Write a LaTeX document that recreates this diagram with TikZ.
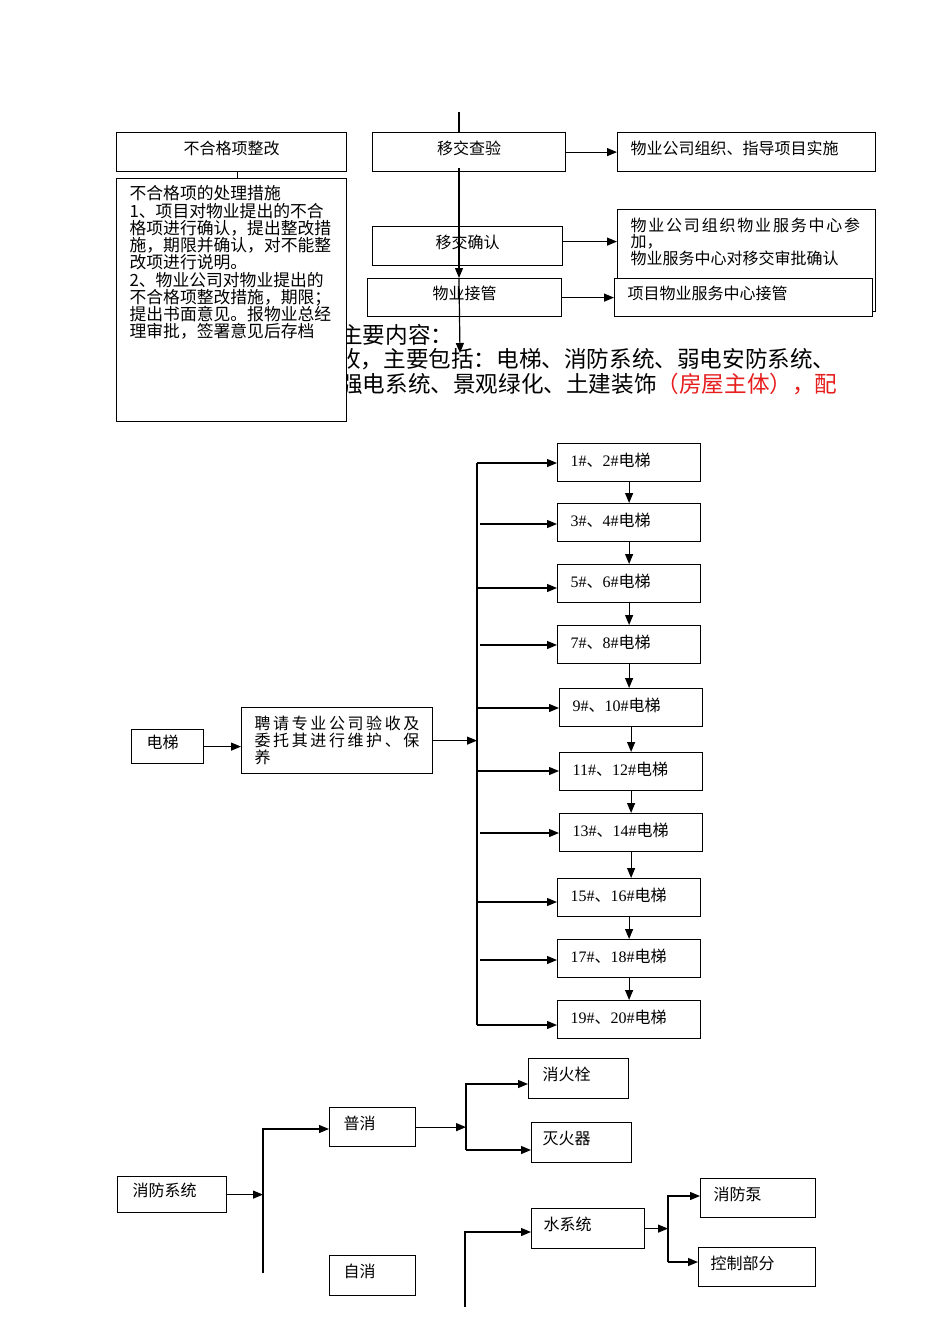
\documentclass[tikz,border=0pt]{standalone}
\usepackage{fontspec}
\setmainfont{Liberation Serif}
\newfontfamily\cjk{Noto Sans CJK SC}
\usetikzlibrary{arrows.meta}
\definecolor{redtxt}{RGB}{230,30,30}
\tikzstyle{ln}=[line width=1.2pt]
\tikzstyle{ar}=[ln, -{Triangle[length=10pt,width=8pt]}]
\tikzstyle{bx}=[draw, fill=white, line width=1.2pt, anchor=north west, inner ysep=0pt, font=\cjk\fontsize{16}{17}\selectfont]
\tikzstyle{cb}=[bx, align=center, text height=14pt, text depth=10pt]
\tikzstyle{lb}=[bx, align=left, text height=14pt, text depth=10pt]
\tikzstyle{lift}=[bx, align=left, text height=14pt, text depth=6pt, text width=117pt, inner xsep=13pt, minimum height=38pt]
\tikzstyle{bg}=[anchor=west, inner sep=0pt, font=\cjk\fontsize{22.6}{24}\selectfont]
\makeatletter
\newcommand\spreadtxt[2]{\mbox{\@tfor\ch:=#2\do{\ch\hskip#1}}}
\makeatother
\newcommand\liftname[2]{{\rmfamily #1\#}、{\rmfamily #2\#}电梯}

\begin{document}
\begin{tikzpicture}[x=1pt, y=-1pt]
%%position
\useasboundingbox (0,0) rectangle (950,1344);
%%text behind
\node[bg] (tl1) at (340,335) {主要内容：};
\node[bg] (tl2) at (338,359) {收，主要包括：电梯、消防系统、弱电安防系统、};
\node[bg] (tl3) at (340,384) {强电系统、景观绿化、土建装饰\textcolor{redtxt}{（房屋主体），配}};
%%handover
%%body
\node[cb, minimum width=230pt, minimum height=39pt] (nfix) at (116,132) {不合格项整改};
\node[bx, inner xsep=13pt, inner ysep=7pt] (nmeas) at (116,178) {\parbox[c][229pt][t]{204pt}{\fontsize{16.8}{17.25}\selectfont
不合格项的处理措施\\
1、项目对物业提出的不合\\
格项进行确认，提出整改措\\
施，期限并确认，对不能整\\
改项进行说明。\\
2、物业公司对物业提出的\\
不合格项整改措施，期限；\\
提出书面意见。报物业总经\\
理审批，签署意见后存档}};
\node[cb, minimum width=193pt, minimum height=39pt] (nhand) at (372,132) {移交查验};
\node[lb, text width=232pt, inner xsep=13pt, minimum height=39pt] (norg) at (617,132) {物业公司组织、指导项目实施};
\node[cb, minimum width=190pt, minimum height=39pt] (nconf) at (372,226) {移交确认};
\node[bx, inner xsep=13pt, inner ysep=8pt] (napp) at (617,209) {\parbox[c][86pt][t]{232pt}{\fontsize{16}{16.5}\selectfont
\spreadtxt{1.8pt}{物业公司组织物业服务中心参}\\
加，\\
物业服务中心对移交审批确认}};
\node[cb, minimum width=194pt, minimum height=38pt] (ntake) at (367,278) {物业接管};
\node[lb, text width=232pt, inner xsep=13pt, minimum height=38pt] (nserv) at (614,278) {项目物业服务中心接管};
%%wire
\coordinate (vt) at (459,112);
\coordinate (vm) at (459,168);
\coordinate (ve) at (460,353);
\draw[ln] (vt) -- (vt |- nhand.north);
\draw[ar] (vm) -- (vm |- ntake.north);
\draw[ar] (vm |- ntake.north) -- (ve);
\draw[ln] ([xshift=6pt]nfix.south) -- ([xshift=6pt]nfix.south |- nmeas.north);
\draw[ar] (nhand) -- (norg);
\draw[ar] ([yshift=4.5pt]nconf.east) -- ([yshift=4.5pt]nconf.east -| napp.west);
\draw[ar] (ntake) -- (nserv);
%%lift
%%body
\node[lb, text width=42pt, inner xsep=15pt, minimum height=34pt] (nlift) at (131,729) {电梯};
\node[bx, align=left, text width=165pt, inner xsep=13pt, minimum height=66pt] (nhire) at (241,707) {\spreadtxt{2.6pt}{聘请专业公司验收及}\\
\spreadtxt{2.6pt}{委托其进行维护、保}\\
养};
\node[lift] (e1) at (557,443) {\liftname{1}{2}};
\node[lift] (e2) at (557,503) {\liftname{3}{4}};
\node[lift] (e3) at (557,564) {\liftname{5}{6}};
\node[lift] (e4) at (557,625) {\liftname{7}{8}};
\node[lift] (e5) at (559,688) {\liftname{9}{10}};
\node[lift] (e6) at (559,752) {\liftname{11}{12}};
\node[lift] (e7) at (559,813) {\liftname{13}{14}};
\node[lift] (e8) at (557,878) {\liftname{15}{16}};
\node[lift] (e9) at (557,939) {\liftname{17}{18}};
\node[lift] (e10) at (557,1000) {\liftname{19}{20}};
%%chain
\draw[ar] (e1.south) -- (e1.south |- e2.north);
\draw[ar] (e2.south) -- (e2.south |- e3.north);
\draw[ar] (e3.south) -- (e3.south |- e4.north);
\draw[ar] (e4.south) -- (e4.south |- e5.north);
\draw[ar] (e5.south) -- (e5.south |- e6.north);
\draw[ar] (e6.south) -- (e6.south |- e7.north);
\draw[ar] (e7.south) -- (e7.south |- e8.north);
\draw[ar] (e8.south) -- (e8.south |- e9.north);
\draw[ar] (e9.south) -- (e9.south |- e10.north);
%%bus
\coordinate (bt) at (477,463);
\coordinate (b2) at (480,524);
\coordinate (b3) at (477,588);
\coordinate (b4) at (480,645);
\coordinate (b5) at (477,708);
\coordinate (b6) at (477,771);
\coordinate (b7) at (480,833);
\coordinate (b8) at (477,902);
\coordinate (b9) at (480,960);
\coordinate (bb) at (477,1025);
\draw[ln] (bt) -- (bb);
\draw[ar] (nlift.east) -- (nlift.east -| nhire.west);
\draw[ar] (nhire.east) -- (nhire.east -| bt);
\draw[ar] (bt) -- (bt -| e1.west);
\draw[ar] (b2) -- (b2 -| e2.west);
\draw[ar] (b3) -- (b3 -| e3.west);
\draw[ar] (b4) -- (b4 -| e4.west);
\draw[ar] (b5) -- (b5 -| e5.west);
\draw[ar] (b6) -- (b6 -| e6.west);
\draw[ar] (b7) -- (b7 -| e7.west);
\draw[ar] (b8) -- (b8 -| e8.west);
\draw[ar] (b9) -- (b9 -| e9.west);
\draw[ar] (bb) -- (bb -| e10.west);
%%fire
%%body
\node[lb, text width=79pt, inner xsep=15pt, minimum height=36pt] (nfire) at (117,1176) {消防系统};
\node[lb, text width=58pt, inner xsep=14pt, minimum height=39pt] (npu) at (329,1107) {普消};
\node[lb, text width=58pt, inner xsep=14pt, minimum height=40pt] (nzi) at (329,1255) {自消};
\node[lb, text width=72pt, inner xsep=14pt, minimum height=40pt] (nxs) at (528,1058) {消火栓};
\node[lb, text width=78pt, inner xsep=11pt, minimum height=40pt] (nmh) at (531,1122) {灭火器};
\node[lb, text width=89pt, inner xsep=12pt, minimum height=40pt] (nwat) at (531,1208) {水系统};
\node[lb, text width=89pt, inner xsep=13pt, minimum height=39pt] (nbeng) at (700,1178) {消防泵};
\node[lb, text width=93pt, inner xsep=12pt, minimum height=39pt] (nctl) at (698,1247) {控制部分};
%%wire
\coordinate (ft) at (263,1129);
\coordinate (fb) at (263,1273);
\coordinate (pt) at (466,1084);
\coordinate (pb) at (466,1150);
\coordinate (wt) at (465,1232);
\coordinate (wb) at (465,1307);
\coordinate (st) at (668,1196);
\coordinate (sb) at (668,1262);
\draw[ar] (nfire.east) -- (nfire.east -| ft);
\draw[ar] (fb) -- (ft) -- (ft -| npu.west);
\draw[ar] (npu.east) -- (npu.east -| pt);
\draw[ar] (pb) -- (pt) -- (pt -| nxs.west);
\draw[ar] (pb) -- (pb -| nmh.west);
\draw[ar] (wb) -- (wt) -- (wt -| nwat.west);
\draw[ar] (nwat.east) -- (nwat.east -| st);
\draw[ar] (sb) -- (st) -- (st -| nbeng.west);
\draw[ar] (sb) -- (sb -| nctl.west);
\end{tikzpicture}
\end{document}
